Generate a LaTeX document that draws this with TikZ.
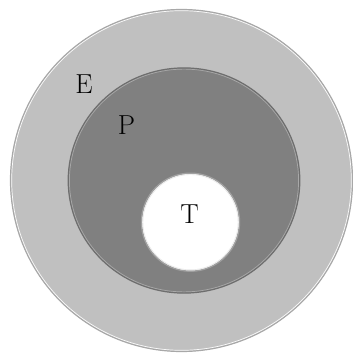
\documentclass[tikz,border=0pt]{standalone}
\usepackage{tikz}
\definecolor{crust}{HTML}{C0C0C0}
\definecolor{mantle}{HTML}{808080}
\definecolor{crustrim}{HTML}{A8A8A8}
\definecolor{mantlerim}{HTML}{6E6E6E}
\definecolor{corerim}{HTML}{A0A0A0}
\tikzset{
  lbl/.style={font=\fontsize{27.5}{30}\selectfont, inner sep=0pt, text=black},
}
\begin{document}
\begin{tikzpicture}[x=1pt,y=-1pt]
  \useasboundingbox (0,0) rectangle (353,353);
  % outer layer
  \fill[crust] (181.5,180.5) circle (171);
  \draw[crustrim, line width=1.2pt] (181.5,180.5) circle (171);
  \draw[white!90!crust, line width=0.7pt] (181.5,180.5) circle (169.8);
  % middle layer
  \fill[mantle] (184,180.5) ellipse [x radius=115.8, y radius=112.6];
  \draw[mantlerim, line width=1.2pt] (184,180.5) ellipse [x radius=115.8, y radius=112.6];
  \draw[crustrim, line width=0.7pt] (184,180.5) ellipse [x radius=114.6, y radius=111.4];
  % inner core
  \fill[white] (190.5,222.2) circle (49);
  \draw[corerim, line width=1.4pt] (190.5,222.2) circle (49);
  \draw[white!75!corerim, line width=0.6pt] (190.5,222.2) circle (47.6);
  % labels
  \node[lbl] (e) at (84,84.5) {E};
  \node[lbl] (p) at (126.5,125) {P};
  \node[lbl] (t) at (189.5,214) {T};
\end{tikzpicture}
\end{document}
